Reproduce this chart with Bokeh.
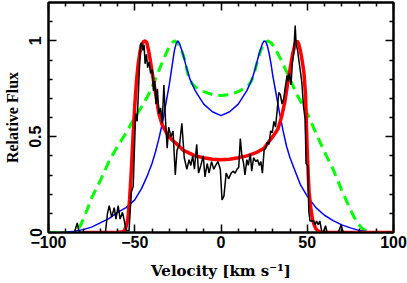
from bokeh.plotting import figure
from bokeh.models import Range1d, LinearAxis, FixedTicker, CustomLabelingPolicy
from bokeh.embed import file_html
from bokeh.resources import INLINE

# ---------------- data ----------------
black_v = [
    -85, -84, -83.3, -82.5, -81.5, -67, -65.8, -64.8, -63.4,
    -61.9, -60.9, -59.6, -58.5, -57.1, -55.8, -55, -53.3, -52, -50.9,
    -49.5, -48.6, -47.6, -46.7, -46.1, -45.3, -44.6, -44, -43.2, -42.5,
    -41.7, -40.8, -39.8, -39.2, -38.4, -37.7, -36.9, -36, -35, -34.1,
    -33.1, -32.2, -31.2, -30.3, -29, -27.8, -26.5, -25.5, -24, -22.7,
    -21.3, -19.8, -18.5, -17.5, -16.4, -15.4, -14.1, -13, -11.7, -10.3,
    -9.3, -8, -6.9, -5.5, -4.2, -3.1, -1.8, -0.4, 0.6, 1.7,
    3, 4.4, 5.9, 7, 8.2, 9.3, 10.3, 11.2, 12, 13.1,
    13.9, 15, 15.8, 17, 17.8, 18.9, 20.2, 21.2, 22.2, 23.1,
    24, 25, 25.9, 26.9, 27.8, 28.8, 29.7, 30.7, 31.6, 32.6,
    33.5, 34.4, 35.4, 36.4, 37.3, 38.3, 38.9, 39.6, 40.6, 41.3,
    42.1, 43, 43.6, 44.4, 45.1, 45.9, 46.9, 47.8, 48.8, 49.3,
    50.3, 50.9, 51.6, 52.6, 53.6, 54.6, 55.4, 56.4, 57.3, 58.3,
    59.3, 60.6, 61.5, 68, 68.8, 69.7, 70.5, 71.4, 72,
]
black_f = [
    0, 0.03, 0.05, 0.01, 0, 0, 0.10, 0.14, 0.08,
    0.13, 0.07, 0.14, 0.07, 0.105, 0.05, 0.01, 0.01, 0.21, 0.24,
    0.62, 0.58, 0.79, 0.98, 0.99, 0.95, 0.98, 0.88, 0.93, 0.86,
    0.89, 0.83, 0.85, 0.74, 0.79, 0.67, 0.75, 0.62, 0.65, 0.57,
    0.77, 0.59, 0.44, 0.55, 0.50, 0.53, 0.30, 0.43, 0.46, 0.57,
    0.39, 0.33, 0.38, 0.35, 0.40, 0.33, 0.46, 0.31, 0.35, 0.40,
    0.29, 0.36, 0.31, 0.37, 0.33, 0.35, 0.37, 0.33, 0.17, 0.19,
    0.31, 0.28, 0.31, 0.32, 0.31, 0.33, 0.34, 0.49, 0.41, 0.36,
    0.30, 0.38, 0.35, 0.41, 0.32, 0.39, 0.37, 0.38, 0.35, 0.37,
    0.31, 0.43, 0.44, 0.47, 0.46, 0.53, 0.52, 0.58, 0.55, 0.64,
    0.73, 0.72, 0.67, 0.70, 0.76, 0.82, 0.79, 0.83, 0.77, 0.88,
    0.93, 1.08, 0.98, 0.95, 0.90, 0.85, 0.78, 0.66, 0.59, 0.36,
    0.35, 0.11, 0.06, 0.06, 0.06, 0.04, 0.06, 0.04, 0.06, 0.01,
    0.0, 0.035, 0.0, 0.0, 0.02, 0.04, 0.01, 0.0, 0,
]

red_v = [
    -79, -60, -57, -56, -55, -54, -53, -52, -51, -50, -49, -48, -47, -46,
    -45, -44, -43, -42, -41, -40, -38, -36, -34, -31, -28, -26, -22, -15,
    -10, -5, 0, 5, 10, 15, 20, 25, 27, 30, 33, 35, 37, 38.5, 40, 41.5, 43,
    44, 45, 46, 47, 48, 49, 50, 51, 52, 53, 54, 55, 56, 58, 100,
]
red_f = [
    0, 0, 0.004, 0.01, 0.03, 0.07, 0.17, 0.32, 0.5, 0.66, 0.79, 0.88, 0.94, 0.98,
    0.995, 1.0, 0.99, 0.95, 0.9, 0.84, 0.73, 0.62, 0.56, 0.51, 0.48, 0.465, 0.43, 0.40,
    0.39, 0.382, 0.38, 0.382, 0.39, 0.40, 0.415, 0.44, 0.465, 0.5, 0.54, 0.6, 0.68, 0.77, 0.85, 0.93, 0.985,
    1.0, 0.985, 0.95, 0.9, 0.84, 0.72, 0.42, 0.22, 0.13, 0.07, 0.04, 0.02, 0.01, 0, 0,
]

blue_v = [
    -93, -90, -85, -80, -75, -70, -65, -60, -55, -50, -46, -43, -40, -38, -36,
    -34, -32, -30, -29, -28, -27, -26, -25, -24, -22, -20, -18, -15, -10, -5,
    0, 5, 10, 15, 18, 20, 22, 24, 25, 26, 27, 28, 29, 30, 32, 34, 36, 38, 40,
    43, 46, 50, 55, 60, 65, 70, 75, 80, 85, 91,
]
blue_f = [
    0, 0.0015, 0.006, 0.015, 0.028, 0.05, 0.072, 0.105, 0.13, 0.17, 0.23, 0.29, 0.36, 0.42, 0.49,
    0.57, 0.67, 0.77, 0.83, 0.89, 0.95, 0.985, 1.0, 0.985, 0.93, 0.86, 0.8, 0.74, 0.67, 0.63,
    0.61, 0.63, 0.67, 0.74, 0.8, 0.86, 0.93, 0.985, 1.0, 0.995, 0.97, 0.93, 0.88, 0.82, 0.72, 0.62, 0.53, 0.45, 0.39,
    0.32, 0.25, 0.19, 0.13, 0.09, 0.062, 0.04, 0.024, 0.011, 0.004, 0,
]

green_v = [
    -100, -85, -83, -81, -78, -75, -70, -65, -60, -55, -50, -45, -42, -38, -34,
    -31, -29, -27, -25, -23, -21, -19, -17, -15, -10, -5, 0, 5, 10, 15, 17, 19,
    21, 23, 25, 27, 29, 31, 34, 38, 42, 44, 50, 55, 60, 65, 70, 73, 76, 79, 82,
    85, 88, 100,
]
green_f = [
    0, 0, 0.015, 0.045, 0.11, 0.18, 0.27, 0.37, 0.45, 0.52, 0.6, 0.67, 0.72, 0.8, 0.89,
    0.95, 0.985, 1.0, 0.99, 0.955, 0.9, 0.82, 0.78, 0.76, 0.735, 0.72, 0.715, 0.72, 0.735, 0.76, 0.78, 0.82,
    0.89, 0.95, 0.985, 1.0, 0.99, 0.965, 0.915, 0.84, 0.76, 0.72, 0.62, 0.52, 0.42, 0.33, 0.22, 0.16, 0.1, 0.05, 0.02,
    0.003, 0, 0,
]

x_major = [-100, -50, 0, 50, 100]
x_minor = [-90, -80, -70, -60, -40, -30, -20, -10, 10, 20, 30, 40, 60, 70, 80, 90]
x_labels = {-100: "\u2212100", -50: "\u221250", 0: "0", 50: "50", 100: "100"}
y_major = [0, 0.5, 1]
y_minor = [0.1, 0.2, 0.3, 0.4, 0.6, 0.7, 0.8, 0.9, 1.1]
y_labels = {0: "0", 0.5: "0.5", 1: "1"}

# ---------------- figure ----------------
p = figure(
    width=407, height=283,
    x_range=Range1d(-100, 100), y_range=Range1d(0, 1.2),
    output_backend="svg", toolbar_location=None,
    min_border_left=43, min_border_right=14, min_border_top=2, min_border_bottom=51,
    margin=(0, 0, 0, 0),
)
p.grid.visible = False
p.outline_line_color = "black"
p.outline_line_width = 2
p.background_fill_color = "white"
p.border_fill_color = "white"

TICK_FONT = "Liberation Sans"

def style_axis(ax, show_labels):
    ax.axis_line_width = 2
    ax.axis_line_color = "black"
    ax.major_tick_in = 8
    ax.major_tick_out = 0
    ax.minor_tick_in = 4
    ax.minor_tick_out = 0
    ax.major_tick_line_width = 1.5
    ax.minor_tick_line_width = 1.5
    ax.major_tick_line_color = "black"
    ax.minor_tick_line_color = "black"
    if show_labels:
        ax.major_label_text_font = TICK_FONT
        ax.major_label_text_font_size = "16px"
        ax.major_label_text_font_style = "bold"
        ax.major_label_text_color = "black"
        ax.axis_label_text_font_style = "bold"
        ax.axis_label_text_color = "black"
    else:
        ax.major_label_text_font_size = "0px"
        ax.major_label_standoff = 0
        ax.major_label_policy = CustomLabelingPolicy(code="return []")
        ax.axis_label = None

xt = FixedTicker(ticks=x_major, minor_ticks=x_minor)
yt = FixedTicker(ticks=y_major, minor_ticks=y_minor)

p.xaxis.ticker = xt
p.yaxis.ticker = yt
p.xaxis.major_label_overrides = x_labels
p.yaxis.major_label_overrides = y_labels
p.xaxis.axis_label = "Velocity [km s\u207b\u00b9]"
p.yaxis.axis_label = "Relative Flux"
for ax in p.xaxis:
    style_axis(ax, True)
    ax.major_label_standoff = 3
    ax.axis_label_standoff = 11
    ax.axis_label_text_font = "DejaVu Serif"
    ax.axis_label_text_font_size = "15px"
for ax in p.yaxis:
    style_axis(ax, True)
    ax.major_label_orientation = "vertical"
    ax.major_label_standoff = 7
    ax.axis_label_standoff = 6
    ax.axis_label_text_font = "Liberation Serif"
    ax.axis_label_text_font_size = "16px"

top = LinearAxis(ticker=FixedTicker(ticks=x_major, minor_ticks=x_minor))
style_axis(top, False)
p.add_layout(top, "above")
right = LinearAxis(ticker=FixedTicker(ticks=y_major, minor_ticks=y_minor))
style_axis(right, False)
p.add_layout(right, "right")

# ---------------- glyphs ----------------
p.line(green_v, green_f, line_color="#00ff00", line_width=3, line_dash="10 6")
p.line(blue_v, blue_f, line_color="#0000ff", line_width=1.5)
p.line(red_v, red_f, line_color="#ff0000", line_width=3.5)
p.line(black_v, black_f, line_color="black", line_width=1.5)

open("out.html", "w").write(file_html(p, INLINE))
